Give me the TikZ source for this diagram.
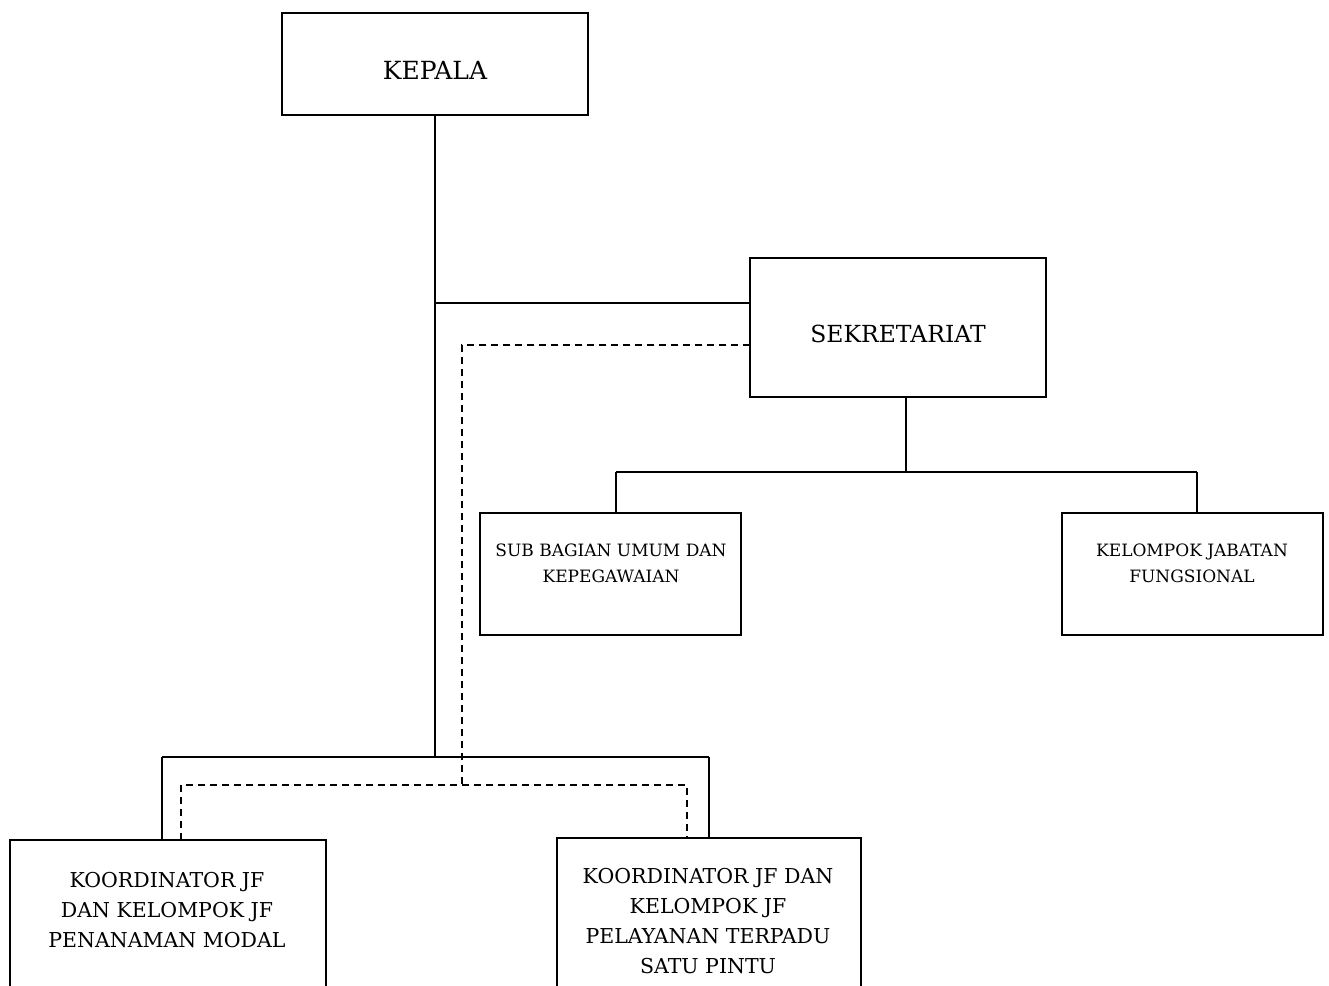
\documentclass[tikz,border=0pt]{standalone}
\usepackage{fontspec}
\setmainfont{DejaVu Serif}
\begin{document}
\begin{tikzpicture}[x=1pt,y=-1pt,
  boxstyle/.style={draw, line width=1.6pt, rectangle, anchor=north west, inner sep=0pt, outer sep=0pt},
  solidline/.style={line width=1.6pt},
  dashline/.style={line width=1.5pt, dash pattern=on 7pt off 5pt},
  bigtxt/.style={font=\fontsize{25}{28}\selectfont, align=center},
  midtxt/.style={font=\fontsize{20.5}{30}\selectfont, align=center},
  smalltxt/.style={font=\fontsize{17}{26}\selectfont, align=center}]
\useasboundingbox (0,0) rectangle (1329,985);
\clip (0,0) rectangle (1329,985);
% boxes
\node[boxstyle, minimum width=306pt, minimum height=102pt] (kep) at (282,13) {};
\node[boxstyle, minimum width=296pt, minimum height=139pt] (sek) at (750,258) {};
\node[boxstyle, minimum width=261pt, minimum height=122pt] (sub) at (480,513) {};
\node[boxstyle, minimum width=261pt, minimum height=122pt] (kjf) at (1062,513) {};
\node[boxstyle, minimum width=316pt, minimum height=200pt] (kpm) at (10,840) {};
\node[boxstyle, minimum width=304pt, minimum height=200pt] (kpt) at (557,838) {};
% labels
\node[bigtxt] (tkep) at (435,70) {KEPALA};
\node[midtxt, font=\fontsize{23.5}{26}\selectfont] (tsek) at (898,334) {SEKRETARIAT};
\node[smalltxt] (tsub) at (611,563) {SUB BAGIAN UMUM DAN\\KEPEGAWAIAN};
\node[smalltxt] (tkjf) at (1192,563) {KELOMPOK JABATAN\\FUNGSIONAL};
\node[midtxt] (tkpm) at (167,910) {KOORDINATOR JF\\DAN KELOMPOK JF\\PENANAMAN MODAL};
\node[midtxt] (tkpt) at (708,921) {KOORDINATOR JF DAN\\KELOMPOK JF\\PELAYANAN TERPADU\\SATU PINTU};
% junction coordinates
\coordinate (j1) at (kep.south |- 0,303);
\coordinate (j2) at (kep.south |- 0,757);
\coordinate (bl) at (162,757);
\coordinate (br) at (709,757);
\coordinate (sj) at (906,472);
\coordinate (sl) at (616,472);
\coordinate (sr) at (1197,472);
\coordinate (d1) at (462,345);
\coordinate (d2) at (462,785);
\coordinate (dl) at (181,785);
\coordinate (dr) at (687,785);
% solid connectors
\draw[solidline] (kep.south) -- (j2);
\draw[solidline] (j1) -- (j1 -| sek.west);
\draw[solidline] (bl) -- (br);
\draw[solidline] (bl) -- (bl |- kpm.north);
\draw[solidline] (br) -- (br |- kpt.north);
\draw[solidline] (sek.south -| sj) -- (sj);
\draw[solidline] (sl) -- (sr);
\draw[solidline] (sl) -- (sl |- sub.north);
\draw[solidline] (sr) -- (sr |- kjf.north);
% dashed connectors
\draw[dashline] (d1 -| sek.west) -- (d1) -- (d2);
\draw[dashline] (dl |- kpm.north) -- (dl) -- (dr) -- (dr |- kpt.north);
\end{tikzpicture}
\end{document}
